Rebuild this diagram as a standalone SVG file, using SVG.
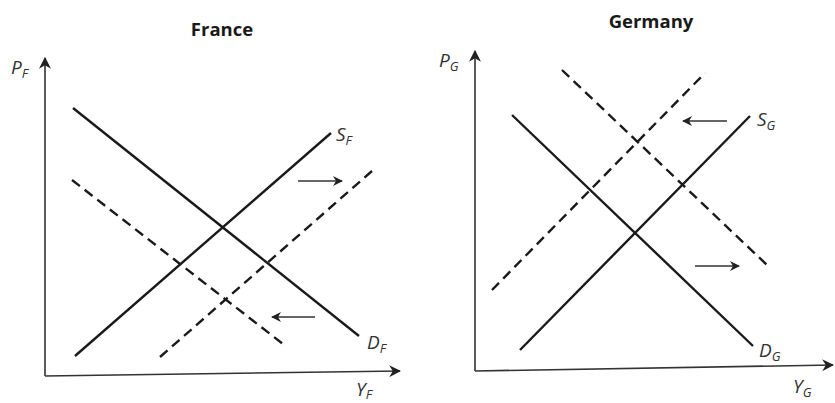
<svg xmlns="http://www.w3.org/2000/svg" width="835" height="403" viewBox="0 0 835 403">
<defs>
<marker id="ah" viewBox="0 0 10 10" refX="9" refY="5" markerWidth="10" markerHeight="10" orient="auto" markerUnits="userSpaceOnUse">
<path d="M0,0 L10,5 L0,10 L3,5 Z" fill="#222"/>
</marker>
<marker id="axh" viewBox="0 0 10 10" refX="9" refY="5" markerWidth="12" markerHeight="12" orient="auto" markerUnits="userSpaceOnUse">
<path d="M0,0 L10,5 L0,10 L3,5 Z" fill="#222"/>
</marker>
</defs>
<style>
.axis{stroke:#333;stroke-width:1.6;fill:none}
.curve{stroke:#1a1a1a;stroke-width:2.4;fill:none}
.dash{stroke:#1a1a1a;stroke-width:2.4;fill:none;stroke-dasharray:10 6}
.shift{stroke:#333;stroke-width:1.6;fill:none}
.lbl{font-family:"Open Sans","Liberation Sans",sans-serif;font-style:italic;font-size:19px;fill:#333}
.sub{font-size:13px}
.title{font-family:"Open Sans","Liberation Sans",sans-serif;font-weight:bold;font-size:18.5px;fill:#1a1a1a}
</style>
<rect width="835" height="403" fill="#fff"/>
<g id="france">
<text class="title" x="222" y="36" text-anchor="middle">France</text>
<g id="france-axes">
<line class="axis" x1="45" y1="376" x2="45" y2="58" marker-end="url(#axh)"/>
<line class="axis" x1="45" y1="376" x2="400" y2="371" marker-end="url(#axh)"/>
<text class="lbl" x="11" y="74">P<tspan class="sub" dy="4">F</tspan></text>
<text class="lbl" x="356" y="396">Y<tspan class="sub" dy="3">F</tspan></text>
</g>
<g id="france-DF">
<line class="curve" x1="73" y1="108" x2="359" y2="336"/>
<text class="lbl" x="367" y="349">D<tspan class="sub" dy="4">F</tspan></text>
</g>
<g id="france-SF">
<line class="curve" x1="75" y1="356" x2="331" y2="133"/>
<text class="lbl" x="336" y="141">S<tspan class="sub" dy="4">F</tspan></text>
</g>
<g id="france-S2"><line class="dash" x1="160" y1="357" x2="372" y2="171"/></g>
<g id="france-D2"><line class="dash" x1="72" y1="180" x2="283" y2="344"/></g>
</g>
<g id="germany">
<text class="title" x="651" y="28" text-anchor="middle">Germany</text>
<g id="germany-axes">
<line class="axis" x1="475" y1="371" x2="475" y2="51" marker-end="url(#axh)"/>
<line class="axis" x1="475" y1="371" x2="833" y2="365" marker-end="url(#axh)"/>
<text class="lbl" x="439" y="67">P<tspan class="sub" dy="4">G</tspan></text>
<text class="lbl" x="793" y="393">Y<tspan class="sub" dy="4">G</tspan></text>
</g>
<g id="germany-SG">
<line class="curve" x1="520" y1="350" x2="750" y2="116"/>
<text class="lbl" x="757" y="126">S<tspan class="sub" dy="4">G</tspan></text>
</g>
<g id="germany-DG">
<line class="curve" x1="512" y1="115" x2="753" y2="346"/>
<text class="lbl" x="759" y="357">D<tspan class="sub" dy="4">G</tspan></text>
</g>
<g id="germany-S2"><line class="dash" x1="492" y1="290" x2="705" y2="73"/></g>
<g id="germany-D2"><line class="dash" x1="562" y1="70" x2="767" y2="265"/></g>
</g>
<g id="connectors">
<line class="shift" x1="298" y1="181" x2="342" y2="181" marker-end="url(#ah)"/>
<line class="shift" x1="315" y1="317" x2="272" y2="317" marker-end="url(#ah)"/>
<line class="shift" x1="727" y1="121" x2="683" y2="121" marker-end="url(#ah)"/>
<line class="shift" x1="695" y1="266" x2="739" y2="266" marker-end="url(#ah)"/>
</g>
</svg>
